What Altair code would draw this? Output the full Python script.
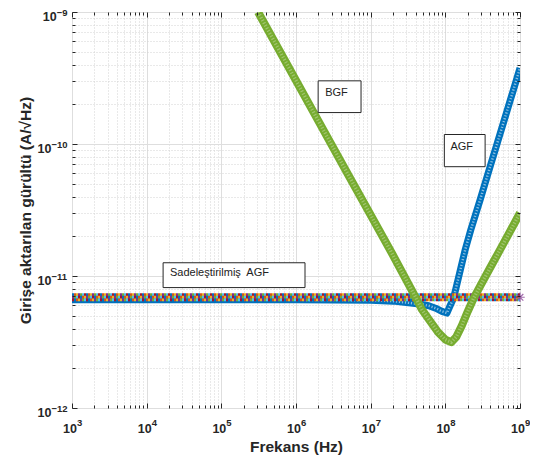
import altair as alt
import pandas as pd

# ---------------- data ----------------
agf_f = [1e3, 1e4, 1e5, 1e6, 1e7, 2e7, 3e7, 4.8e7, 6e7, 7.4e7, 9e7, 1.05e8,
         1.15e8, 1.29e8, 1.5e8, 1.85e8, 2.2e8, 2.93e8, 4e8, 5e8, 7e8, 1e9]
agf_v = [6.6e-12, 6.6e-12, 6.6e-12, 6.6e-12, 6.55e-12, 6.45e-12, 6.3e-12, 6.1e-12,
         5.95e-12, 5.7e-12, 5.4e-12, 5.24e-12, 5.9e-12, 6.8e-12, 9.7e-12, 1.59e-11,
         2.25e-11, 3.79e-11, 6.8e-11, 1.03e-10, 1.93e-10, 3.76e-10]

bgf_f = [3.1e5, 5e5, 1e6, 2e6, 5e6, 1e7, 2e7, 4e7, 4.83e7, 6e7, 8e7, 1e8, 1.2e8,
         1.4e8, 1.66e8, 2e8, 2.4e8, 3e8, 4e8, 5e8, 7e8, 1e9]
bgf_v = [1.0e-9, 6.14e-10, 3.03e-10, 1.49e-10, 5.85e-11, 2.9e-11, 1.43e-11, 6.9e-12,
         5.6e-12, 4.7e-12, 3.75e-12, 3.3e-12, 3.15e-12, 3.45e-12, 4.2e-12, 5.4e-12,
         6.8e-12, 8.6e-12, 1.16e-11, 1.46e-11, 2.07e-11, 3.0e-11]

sade_f = [1e3, 1e9]
sade_v = [6.9e-12, 6.9e-12]

x_exps = [3, 4, 5, 6, 7, 8, 9]
x_exp_labels = ["3", "4", "5", "6", "7", "8", "9"]
y_exps = [-12, -11, -10, -9]
y_exp_labels = ["\u221212", "\u221211", "\u221210", "\u22129"]
tick_base = "10"

# annotation boxes (data coordinates)
box_label = ["BGF", "AGF", "Sadeleştirilmiş\u00a0 AGF"]
box_x1 = [1.98e6, 9.7e7, 1.66e4]
box_x2 = [7.43e6, 3.41e8, 1.32e6]
box_y1 = [1.73e-10, 6.73e-11, 8.17e-12]
box_y2 = [3.01e-10, 1.18e-10, 1.26e-11]
text_x = [2.46e6, 1.17e8, 2.05e4]
text_y = [2.45e-10, 9.57e-11, 1.06e-11]

matlab_colors = ["#0072BD", "#D95319", "#EDB120", "#7E2F8E", "#77AC30", "#4DBEEE", "#A2142F"]

# ---------------- frames ----------------
df_agf = pd.DataFrame({"f": agf_f, "v": agf_v})
df_bgf = pd.DataFrame({"f": bgf_f, "v": bgf_v})
df_sade = pd.DataFrame({"f": sade_f, "v": sade_v})
df_star = pd.DataFrame({"f": sade_f[-1:], "v": sade_v[-1:]})
df_box = pd.DataFrame({"label": box_label, "x1": box_x1, "x2": box_x2,
                       "y1": box_y1, "y2": box_y2, "tx": text_x, "ty": text_y})

x_major = [10.0 ** e for e in x_exps]
x_minor = [m * 10.0 ** e for e in x_exps[:-1] for m in range(2, 10)]
y_major = [10.0 ** e for e in y_exps]
y_minor = [m * 10.0 ** e for e in y_exps[:-1] for m in range(2, 10)]


def label_expr(exps, labels):
    expr = "''"
    for e, l in reversed(list(zip(exps, labels))):
        expr = f"round(log(datum.value)/LN10) == {e} ? '{l}' : ({expr})"
    return expr


W, H = 448, 396
FONT = "Liberation Sans"
AX = "#262626"
BASE_FS = 12.5
EXP_FS = 9.5
xs = alt.Scale(type="log", domain=[1e3, 1e9], nice=False)
ys = alt.Scale(type="log", domain=[1e-12, 1e-9], nice=False)


def axis_layer(xaxis, yaxis):
    return alt.Chart(df_agf).mark_point(opacity=0).encode(
        x=alt.X("f:Q", scale=xs, axis=xaxis),
        y=alt.Y("v:Q", scale=ys, axis=yaxis),
    )


def plain(orient, values, **kw):
    base = dict(orient=orient, values=values, ticks=False, domain=False, grid=False,
                labels=False, title=None, zindex=1)
    base.update(kw)
    return alt.Axis(**base)


def label_axis(orient, values, expr, fs, align, padding, offset, baseline, **kw):
    return plain(orient, values, labels=True, labelExpr=expr, labelFont=FONT,
                 labelFontSize=fs, labelFontWeight="bold", labelColor=AX,
                 labelAlign=align, labelBaseline=baseline, labelPadding=padding,
                 labelOffset=offset, labelFlush=False, labelOverlap=False,
                 labelBound=False, **kw)


def tick_axis(orient, offset, values, size):
    return plain(orient, values, ticks=True, tickSize=size, tickColor=AX, offset=offset)


base_expr = f"'{tick_base}'"
title_kw = dict(titleFont=FONT, titleFontSize=15.5, titleFontWeight="bold", titleColor=AX)

layers_axes = [
    # minor grid
    axis_layer(plain("bottom", x_minor, grid=True, gridColor="#d2d2d2", gridDash=[1, 2], zindex=0),
               plain("left", y_minor, grid=True, gridColor="#d2d2d2", gridDash=[1, 2], zindex=0)),
    # major grid
    axis_layer(plain("bottom", x_major, grid=True, gridColor="#dedede", zindex=0),
               plain("left", y_major, grid=True, gridColor="#dedede", zindex=0)),
    # base "10" labels (+ titles)
    axis_layer(label_axis("bottom", x_major, base_expr, BASE_FS, "center", 14, -2.5, "top",
                          title="Frekans (Hz)", titlePadding=5, **title_kw),
               label_axis("left", y_major[:3], base_expr, BASE_FS, "right", 21, 4, "middle",
                          title="Girişe aktarılan gürültü (A/√Hz)", titlePadding=4, **title_kw)),
    # exponent labels
    axis_layer(label_axis("bottom", x_major, label_expr(x_exps, x_exp_labels), EXP_FS, "left",
                          9, 4.5, "top"),
               label_axis("left", y_major[:3], label_expr(y_exps, y_exp_labels), EXP_FS, "left",
                          21, 0, "middle")),
    axis_layer(None,
               label_axis("left", y_major[3:], base_expr, BASE_FS, "right", 15.8, 4, "middle")),
    axis_layer(None,
               label_axis("left", y_major[3:], label_expr(y_exps, y_exp_labels), EXP_FS, "left",
                          15.8, 0, "middle")),
    # inward ticks
    axis_layer(tick_axis("top", -H, x_minor, 3), tick_axis("right", -W, y_minor, 3)),
    axis_layer(tick_axis("top", -H, x_major, 5), tick_axis("right", -W, y_major, 5)),
    axis_layer(tick_axis("bottom", -H, x_minor, 3), tick_axis("left", -W, y_minor, 3)),
    axis_layer(tick_axis("bottom", -H, x_major, 5), tick_axis("left", -W, y_major, 5)),
]


def series(df, **mark):
    return alt.Chart(df).mark_line(clip=True, **mark).encode(
        x=alt.X("f:Q", scale=xs, axis=None),
        y=alt.Y("v:Q", scale=ys, axis=None),
    )


blue_base = series(df_agf, color="#0072BD", strokeWidth=7, strokeJoin="round")
blue_tex = series(df_agf, color="#ffffff", opacity=0.55, strokeWidth=2.5,
                  strokeDash=[1.2, 1.8])

band_layers = []
for r in range(3):
    for c in range(7):
        band_layers.append(
            series(df_sade, color=matlab_colors[(c + 3 * r) % 7], strokeWidth=2.8,
                   yOffset=(r - 1) * 2.7, strokeDash=[2, 12],
                   strokeDashOffset=-2 * c)
        )

green_base = series(df_bgf, color="#77AC30", strokeWidth=8, strokeJoin="round")
green_tex = series(df_bgf, color="#ffffff", opacity=0.3, strokeWidth=3.5,
                   strokeDash=[1.2, 1.8])

star = alt.Chart(df_star).mark_point(
    shape="M-1,0L1,0M0,-1L0,1M-0.7,-0.7L0.7,0.7M-0.7,0.7L0.7,-0.7",
    filled=False, color="#7E2F8E", size=90, strokeWidth=1.2, clip=False,
).encode(x=alt.X("f:Q", scale=xs, axis=None), y=alt.Y("v:Q", scale=ys, axis=None))

boxes = alt.Chart(df_box).mark_rect(fill="white", stroke=AX, strokeWidth=1).encode(
    x=alt.X("x1:Q", scale=xs, axis=None), x2="x2",
    y=alt.Y("y1:Q", scale=ys, axis=None), y2="y2",
)
texts = alt.Chart(df_box).mark_text(
    align="left", baseline="middle", font=FONT, fontSize=11, color="#222222"
).encode(
    x=alt.X("tx:Q", scale=xs, axis=None),
    y=alt.Y("ty:Q", scale=ys, axis=None),
    text="label:N",
)

chart = alt.layer(
    *layers_axes,
    blue_base, blue_tex, *band_layers, green_base, green_tex, star, boxes, texts,
).resolve_axis(x="independent", y="independent").properties(
    width=W, height=H,
    autosize=alt.AutoSizeParams(type="none"),
    padding={"left": 64, "top": 4, "right": 10, "bottom": 50},
).configure_view(stroke=AX, strokeWidth=1)

chart.save("out.html", embed_options={"renderer": "svg", "actions": False})
